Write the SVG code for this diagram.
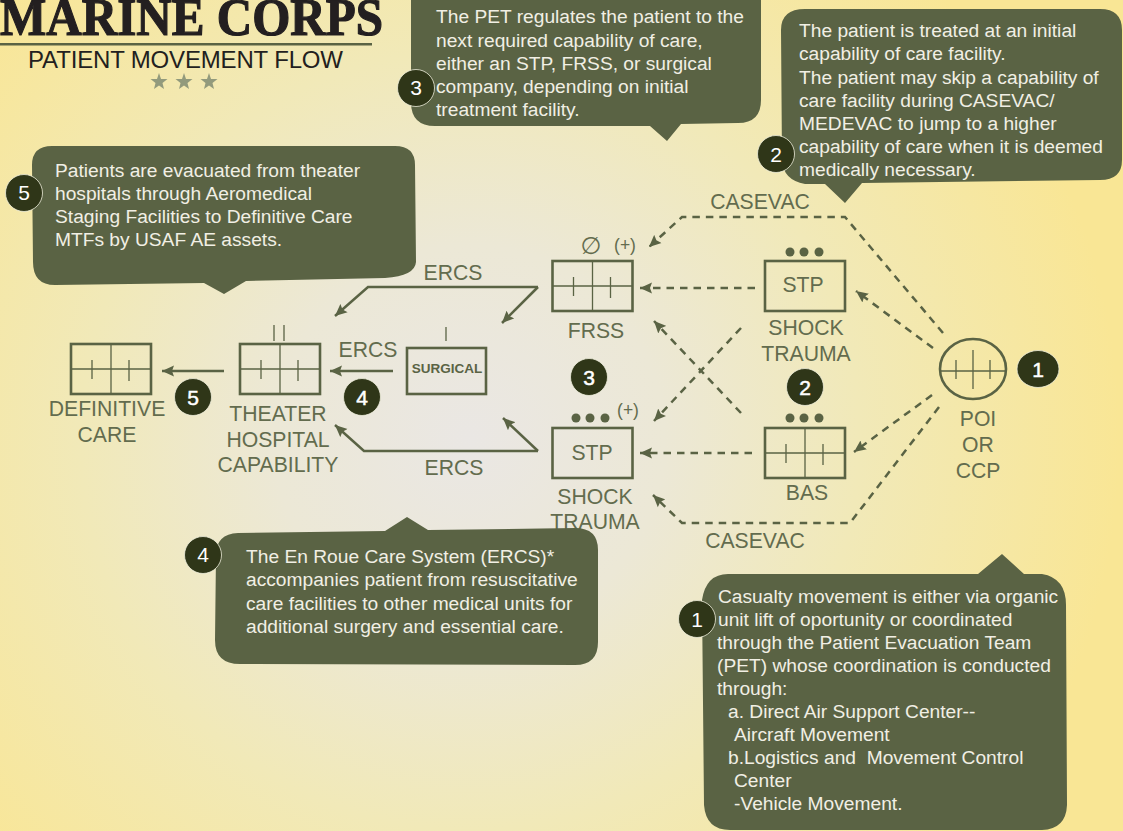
<svg xmlns="http://www.w3.org/2000/svg" xmlns:xlink="http://www.w3.org/1999/xlink" width="1123" height="831" viewBox="0 0 1123 831">
<style>
text{font-family:"Liberation Sans",Arial,sans-serif}
.call{fill:#5a6344;stroke:none}
.ct{fill:#f1efe4;font-size:19.2px;white-space:pre}
.lb{fill:#636c4e;font-size:21.200px;text-anchor:middle}
.box{fill:none;stroke:#5a6344;stroke-width:2.600}
.th{stroke:#5a6344;stroke-width:1.300;fill:none}
.dash{fill:none;stroke:#5a6344;stroke-width:2.500;stroke-dasharray:7.500 6;marker-end:url(#ah)}
.solid{fill:none;stroke:#5a6344;stroke-width:2.500;marker-end:url(#ah)}
.bd{fill:#2f3618;stroke:#eeeeda;stroke-width:.8}
.bt{fill:#fff;font-size:21px;text-anchor:middle}
.btb{fill:#fff;font-size:21px;text-anchor:middle;stroke:#fff;stroke-width:.5}
.dot{fill:#5a6344}
.star{fill:#929a7c}
</style>
<defs>
<radialGradient id="bg" gradientUnits="userSpaceOnUse" cx="470" cy="440" r="650">
<stop offset="0" stop-color="#eae7e4"/>
<stop offset=".3" stop-color="#ece8d6"/>
<stop offset=".6" stop-color="#f1e9b8"/>
<stop offset="1" stop-color="#f9e695"/>
</radialGradient>
<marker id="ah" markerUnits="userSpaceOnUse" markerWidth="12" markerHeight="12" refX="12" refY="6" orient="auto" viewBox="0 0 12 12">
<path d="M0 0.500L12 6L0 11.500L2 6Z" fill="#5a6344"/>
</marker>
<g id="grid">
<rect class="box" width="80" height="50"/>
<path class="th" d="M0 25H80M40 0V50M21 16V35M58 16V37"/>
</g>
</defs>
<rect width="1123" height="831" fill="url(#bg)"/>

<g id="title">
<text x="0" y="35" font-size="52" font-weight="bold" textLength="383" lengthAdjust="spacingAndGlyphs" style="font-family:'Liberation Serif',serif" fill="#231f20" stroke="#231f20" stroke-width="1.200">MARINE CORPS</text>
<rect x="0" y="43" width="372" height="2.5" fill="#5a6344"/>
<text x="28" y="68" font-size="24" textLength="315" fill="#231f20">PATIENT MOVEMENT FLOW</text>
<polygon class="star" points="159,73 161,79 167.500,79 162.500,83 164,89 159,85.500 154,89 155.500,83 150.500,79 157,79"/>
<polygon class="star" points="184,73 186,79 192.500,79 187.500,83 189,89 184,85.500 179,89 180.500,83 175.500,79 182,79"/>
<polygon class="star" points="209,73 211,79 217.500,79 212.500,83 214,89 209,85.500 204,89 205.500,83 200.500,79 207,79"/>
</g>

<g id="connectors">
<path class="dash" d="M943 333L845 217H682L649 247"/>
<path class="dash" d="M755 288H640"/>
<path class="dash" d="M933 348L856 291"/>
<path class="dash" d="M741 328L654 421"/>
<path class="dash" d="M741 413L654 321"/>
<path class="dash" d="M752 453H640"/>
<path class="dash" d="M932 395L854 452"/>
<path class="dash" d="M939 407L850 523H682L653 495"/>
<path class="solid" d="M538 287H368L335 316"/>
<path class="solid" d="M538 287L502 323"/>
<path class="solid" d="M538 451H364L335 425"/>
<path class="solid" d="M538 451L503 418"/>
<path class="solid" d="M393 371H330"/>
<path class="solid" d="M224 371H162"/>
</g>

<g id="edge-labels">
<text class="lb" x="760" y="209">CASEVAC</text>
<text class="lb" x="755" y="548">CASEVAC</text>
<text class="lb" x="453" y="280">ERCS</text>
<text class="lb" x="368" y="357">ERCS</text>
<text class="lb" x="454" y="475">ERCS</text>
</g>

<g id="node-frss">
<use xlink:href="#grid" x="552.500" y="261"/>
<text class="lb" x="596" y="338">FRSS</text>
<text class="lb" x="591" y="254" style="font-size:24px;font-family:'DejaVu Sans',sans-serif">∅</text>
<text class="lb" x="625" y="251" style="font-size:17.500px">(+)</text>
</g>
<g id="node-stp-top">
<rect class="box" x="765" y="261" width="80" height="50"/>
<text class="lb" x="803" y="292">STP</text>
<circle class="dot" cx="790" cy="252" r="4.500"/><circle class="dot" cx="804" cy="252" r="4.500"/><circle class="dot" cx="819" cy="252" r="4.500"/>
<text class="lb" x="806" y="335">SHOCK</text>
<text class="lb" x="806" y="361">TRAUMA</text>
</g>
<g id="node-stp-bottom">
<rect class="box" x="552.500" y="428" width="80" height="50"/>
<text class="lb" x="592" y="460">STP</text>
<circle class="dot" cx="576" cy="418" r="4.500"/><circle class="dot" cx="590" cy="418" r="4.500"/><circle class="dot" cx="605" cy="418" r="4.500"/>
<text class="lb" x="628" y="416" style="font-size:17.500px">(+)</text>
<text class="lb" x="595" y="504">SHOCK</text>
<text class="lb" x="595" y="529">TRAUMA</text>
</g>
<g id="node-bas">
<use xlink:href="#grid" x="765" y="428"/>
<text class="lb" x="807" y="500">BAS</text>
<circle class="dot" cx="790" cy="418" r="4.500"/><circle class="dot" cx="804" cy="418" r="4.500"/><circle class="dot" cx="819" cy="418" r="4.500"/>
</g>
<g id="node-surgical">
<rect class="box" x="407" y="348" width="79" height="46"/>
<text x="447" y="373" font-size="13.500" font-weight="bold" text-anchor="middle" fill="#5a6344">SURGICAL</text>
<path class="th" d="M446 327V341"/>
</g>
<g id="node-theater">
<use xlink:href="#grid" x="240" y="344"/>
<path class="th" d="M274 325V341M284 325V341"/>
<text class="lb" x="278" y="421">THEATER</text>
<text class="lb" x="278" y="447">HOSPITAL</text>
<text class="lb" x="278" y="472">CAPABILITY</text>
</g>
<g id="node-definitive">
<use xlink:href="#grid" x="71" y="344"/>
<text class="lb" x="107" y="416">DEFINITIVE</text>
<text class="lb" x="107" y="442">CARE</text>
</g>
<g id="node-poi">
<ellipse class="box" cx="973" cy="369" rx="33" ry="30"/>
<path class="th" d="M940 371H1006M973 350V389M956 360V379M990 360V379"/>
<text class="lb" x="978" y="426">POI</text>
<text class="lb" x="978" y="452">OR</text>
<text class="lb" x="978" y="478">CCP</text>
</g>

<g id="step-badges">
<ellipse class="bd" cx="1038" cy="369" rx="21" ry="18.500"/><text class="btb" x="1038" y="377">1</text>
<circle class="bd" cx="805" cy="387" r="18.500"/><text class="btb" x="805" y="395">2</text>
<circle class="bd" cx="589" cy="377" r="18.500"/><text class="btb" x="589" y="385">3</text>
<circle class="bd" cx="362" cy="397" r="18.500"/><text class="btb" x="362" y="405">4</text>
<circle class="bd" cx="193" cy="397" r="18.500"/><text class="btb" x="193" y="405">5</text>
</g>

<g id="callout-5">
<path class="call" d="M52 146L395 146Q415 146 415 165L416 262Q415 276 385 278L246 281L224 294L204 283L55 285Q33 285 33 262L32 165Q32 146 52 146Z"/>
<circle class="bd" cx="24" cy="193" r="18.500"/><text class="bt" x="24" y="200">5</text>
<text class="ct" x="55" y="177">Patients are evacuated from theater</text>
<text class="ct" x="55" y="200">hospitals through Aeromedical</text>
<text class="ct" x="55" y="223">Staging Facilities to Definitive Care</text>
<text class="ct" x="55" y="246">MTFs by USAF AE assets.</text>
</g>
<g id="callout-3">
<path class="call" d="M411 -5H761V100Q761 123 738 123L681 124L667 141L650 126L435 126Q411 126 411 102Z"/>
<circle class="bd" cx="416" cy="88" r="18.500"/><text class="bt" x="416" y="95">3</text>
<text class="ct" x="436" y="23">The PET regulates the patient to the</text>
<text class="ct" x="436" y="47">next required capability of care,</text>
<text class="ct" x="436" y="70">either an STP, FRSS, or surgical</text>
<text class="ct" x="436" y="93">company, depending on initial</text>
<text class="ct" x="436" y="116">treatment facility.</text>
</g>
<g id="callout-2">
<path class="call" d="M805 9L1100 9Q1122 9 1122 30V160Q1122 180 1100 180L862 183L845 203L825 184L805 184Q783 180 782 160L781 30Q781 9 805 9Z"/>
<circle class="bd" cx="776" cy="154" r="18.500"/><text class="bt" x="776" y="162">2</text>
<text class="ct" x="799" y="37">The patient is treated at an initial</text>
<text class="ct" x="799" y="60">capability of care facility.</text>
<text class="ct" x="799" y="84">The patient may skip a capability of</text>
<text class="ct" x="799" y="107">care facility during CASEVAC/</text>
<text class="ct" x="799" y="130">MEDEVAC to jump to a higher</text>
<text class="ct" x="799" y="153">capability of care when it is deemed</text>
<text class="ct" x="799" y="176">medically necessary.</text>
</g>
<g id="callout-4">
<path class="call" d="M238 533L385 531L407 517L428 530L575 528Q598 528 598 550V642Q598 665 575 665L240 664Q215 664 215 640L216 555Q216 534 238 533Z"/>
<circle class="bd" cx="203" cy="555" r="18.500"/><text class="bt" x="203" y="562">4</text>
<text class="ct" x="246" y="563">The En Roue Care System (ERCS)*</text>
<text class="ct" x="246" y="586">accompanies patient from resuscitative</text>
<text class="ct" x="246" y="610">care facilities to other medical units for</text>
<text class="ct" x="246" y="633">additional surgery and essential care.</text>
</g>
<g id="callout-1">
<path class="call" d="M728 574L978 574L1002 554L1024 574L1042 574Q1066 578 1066 605L1067 805Q1066 829 1042 830L730 830Q706 830 704 805L702 600Q706 574 728 574Z"/>
<circle class="bd" cx="697" cy="619" r="18.500"/><text class="bt" x="697" y="627">1</text>
<text class="ct" x="718" y="603">Casualty movement is either via organic</text>
<text class="ct" x="718" y="626">unit lift of oportunity or coordinated</text>
<text class="ct" x="717" y="649">through the Patient Evacuation Team</text>
<text class="ct" x="717" y="672">(PET) whose coordination is conducted</text>
<text class="ct" x="717" y="695">through:</text>
<text class="ct" x="728" y="718">a. Direct Air Support Center--</text>
<text class="ct" x="734" y="741">Aircraft Movement</text>
<text class="ct" x="728" y="764">b.Logistics and  Movement Control</text>
<text class="ct" x="734" y="787">Center</text>
<text class="ct" x="734" y="810">-Vehicle Movement.</text>
</g>
</svg>
